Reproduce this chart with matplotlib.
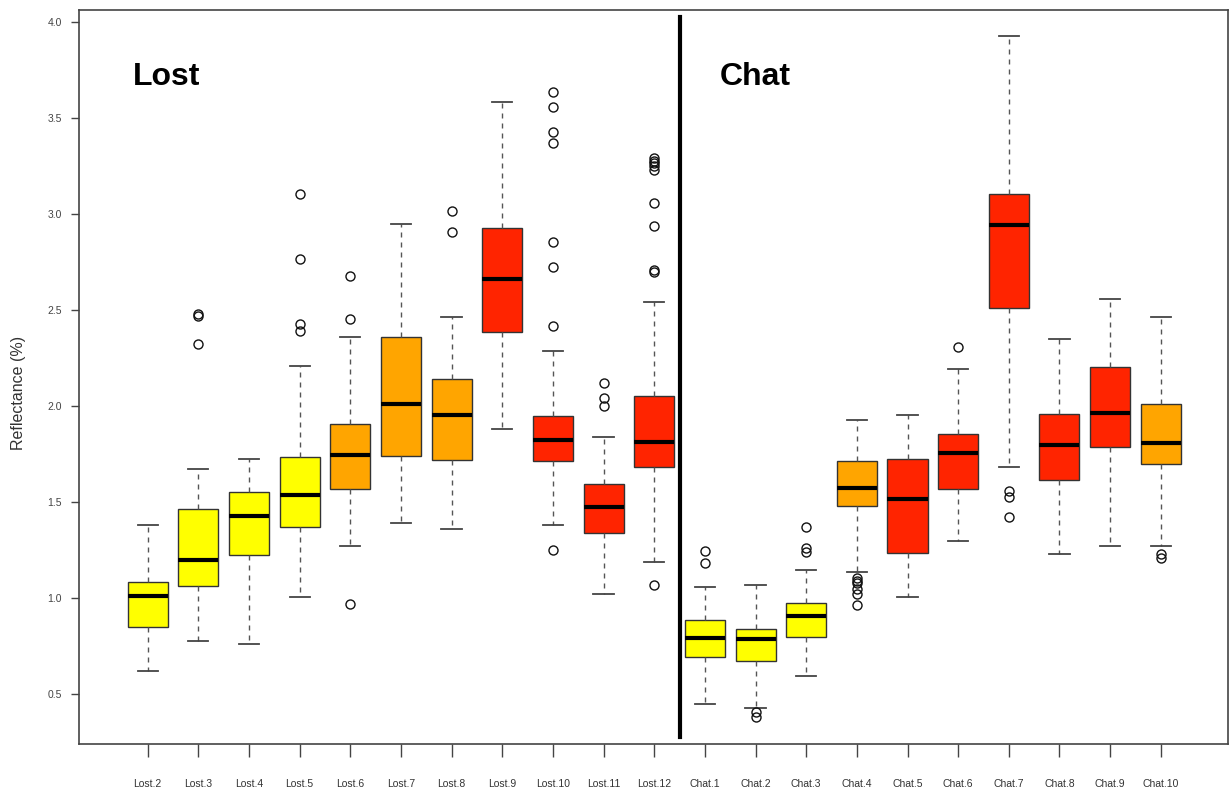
import numpy as np
import matplotlib.pyplot as plt
from matplotlib import rcParams

rcParams.update({'font.family': ['Liberation Sans', 'DejaVu Sans']})

labels = ['Lost.2', 'Lost.3', 'Lost.4', 'Lost.5', 'Lost.6', 'Lost.7', 'Lost.8',
          'Lost.9', 'Lost.10', 'Lost.11', 'Lost.12',
          'Chat.1', 'Chat.2', 'Chat.3', 'Chat.4', 'Chat.5', 'Chat.6', 'Chat.7',
          'Chat.8', 'Chat.9', 'Chat.10']

# five-number summaries per band
whislo = [0.62, 0.776, 0.762, 1.007, 1.271, 1.392, 1.363, 1.88, 1.38, 1.022, 1.188,
          0.448, 0.429, 0.595, 1.139, 1.008, 1.298, 1.685, 1.231, 1.272, 1.272]
q1 = [0.852, 1.064, 1.224, 1.373, 1.568, 1.741, 1.719, 2.389, 1.715, 1.342, 1.682,
      0.694, 0.672, 0.797, 1.481, 1.238, 1.568, 2.51, 1.615, 1.786, 1.699]
med = [1.01, 1.201, 1.429, 1.54, 1.745, 2.01, 1.953, 2.663, 1.826, 1.476, 1.812,
       0.793, 0.79, 0.908, 1.573, 1.516, 1.758, 2.946, 1.798, 1.963, 1.807]
q3 = [1.086, 1.464, 1.552, 1.736, 1.908, 2.363, 2.141, 2.93, 1.949, 1.595, 2.054,
      0.887, 0.838, 0.974, 1.717, 1.724, 1.854, 3.104, 1.96, 2.203, 2.012]
whishi = [1.382, 1.673, 1.724, 2.208, 2.359, 2.951, 2.467, 3.586, 2.29, 1.839, 2.542,
          1.057, 1.071, 1.149, 1.929, 1.956, 2.196, 3.927, 2.349, 2.56, 2.467]
outliers = [
    [],
    [2.479, 2.47, 2.323],
    [],
    [3.106, 2.766, 2.427, 2.394],
    [2.679, 2.456, 0.972],
    [],
    [3.019, 2.906],
    [],
    [3.635, 3.557, 3.43, 3.373, 2.856, 2.724, 2.42, 1.252],
    [2.123, 2.045, 2.003],
    [3.292, 3.278, 3.267, 3.252, 3.231, 3.06, 2.937, 2.71, 2.7, 1.068],
    [1.248, 1.185],
    [0.406, 0.383],
    [1.373, 1.264, 1.243],
    [1.107, 1.09, 1.081, 1.047, 1.021, 0.964],
    [],
    [2.307],
    [1.56, 1.53, 1.425],
    [],
    [],
    [1.231, 1.208],
]
groups = ['y', 'y', 'y', 'y', 'o', 'o', 'o', 'r', 'r', 'r', 'r',
          'y', 'y', 'y', 'o', 'r', 'r', 'r', 'r', 'r', 'o']
palette = {'y': '#FFFF00', 'o': '#FFA500', 'r': '#FF2400'}

stats = []
for i in range(len(labels)):
    stats.append({'label': labels[i], 'whislo': whislo[i], 'q1': q1[i], 'med': med[i],
                  'q3': q3[i], 'whishi': whishi[i], 'fliers': outliers[i]})

fig = plt.figure(figsize=(12.29, 7.94), dpi=100)
ax = fig.add_axes([0.0643, 0.063, 0.935, 0.9244])

pos = np.arange(1, len(labels) + 1)
bp = ax.bxp(stats, positions=pos, widths=0.79, patch_artist=True,
            boxprops=dict(edgecolor='#333333', linewidth=1.0),
            medianprops=dict(color='black', linewidth=3.0, solid_capstyle='butt'),
            whiskerprops=dict(color='#555555', linewidth=1.0, linestyle=(0, (3.6, 3.6))),
            capprops=dict(color='#444444', linewidth=1.3),
            capwidths=0.4,
            flierprops=dict(marker='o', markersize=6.5, markerfacecolor='none',
                            markeredgecolor='#111111', markeredgewidth=1.0))
for patch, g in zip(bp['boxes'], groups):
    patch.set_facecolor(palette[g])

# divider between the two sets
ax.plot([11.5, 11.5], [0.278, 4.03], color='black', linewidth=3.0)

ax.text(0.71, 3.673, 'Lost', fontsize=23, fontweight='bold', ha='left', va='baseline')
ax.text(12.3, 3.673, 'Chat', fontsize=23, fontweight='bold', ha='left', va='baseline')

ax.set_xlim(-0.356, 22.33)
ax.set_ylim(0.241, 4.064)
ax.set_yticks([0.5, 1.0, 1.5, 2.0, 2.5, 3.0, 3.5, 4.0])
ax.set_yticklabels(['0.5', '1.0', '1.5', '2.0', '2.5', '3.0', '3.5', '4.0'])
ax.set_xticks(pos)
ax.set_xticklabels(labels)
ax.tick_params(axis='y', length=5.8, width=1.0, color='#444444', pad=6.5,
               labelsize=7.5, labelcolor='#444444')
ax.tick_params(axis='x', length=9, width=1.0, color='#444444', pad=16,
               labelsize=7.5, labelcolor='#333333')
ax.set_ylabel('Reflectance (%)', fontsize=11.5, color='#333333', va='center')
ax.yaxis.set_label_coords(-0.053, 0.478)

for s in ax.spines.values():
    s.set_color('#444444')
    s.set_linewidth(1.2)

fig.savefig('out.png', dpi=100)
